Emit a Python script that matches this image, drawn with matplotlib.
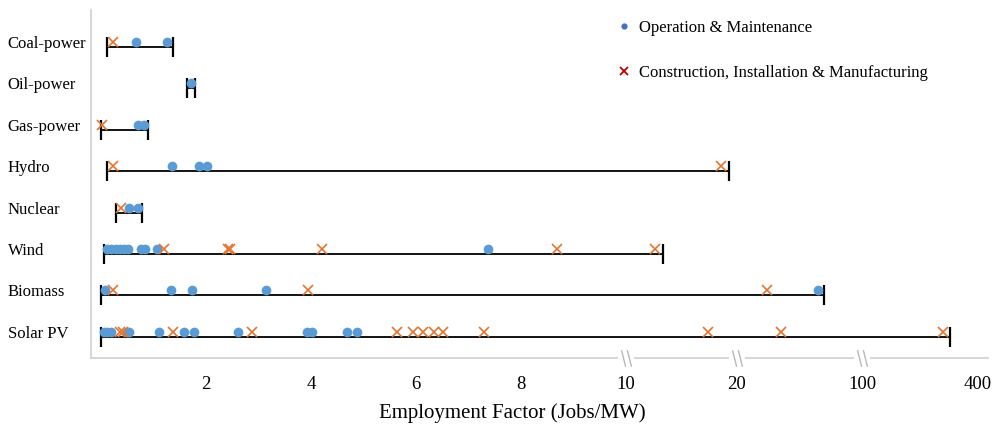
import numpy as np
import matplotlib
matplotlib.use('Agg')
import matplotlib.pyplot as plt
from matplotlib.lines import Line2D
from matplotlib.path import Path
import matplotlib.transforms as mtransforms

plt.rcParams['font.family'] = ['Liberation Serif', 'DejaVu Serif']

# technologies, top to bottom
techs = ['Coal-power', 'Oil-power', 'Gas-power', 'Hydro', 'Nuclear', 'Wind', 'Biomass', 'Solar PV']

# min / max of the range bar for each technology (jobs/MW)
range_lo = [0.11, 1.64, 0.0, 0.11, 0.29, 0.06, 0.0, 0.0]
range_hi = [1.37, 1.79, 0.90, 19.3, 0.78, 13.3, 75.6, 329]

# operation & maintenance estimates
om = [
    [0.67, 1.26],
    [1.71],
    [0.70, 0.82],
    [1.35, 1.87, 2.02],
    [0.53, 0.70],
    [0.12, 0.20, 0.28, 0.36, 0.44, 0.52, 0.76, 0.84, 1.07, 7.37],
    [0.08, 1.33, 1.73, 3.14, 71.8],
    [0.05, 0.12, 0.20, 0.50, 0.54, 1.10, 1.58, 1.77, 2.61, 3.92, 4.02, 4.69, 4.88],
]

# construction, installation & manufacturing estimates
cim = [
    [0.23],
    [],
    [0.02],
    [0.23, 18.6],
    [0.38],
    [1.20, 2.42, 2.46, 4.21, 8.69, 12.6],
    [0.23, 3.94, 39.2],
    [0.36, 0.42, 1.37, 2.88, 5.64, 5.95, 6.13, 6.34, 6.51, 7.30, 17.4, 48, 311],
]

xticks = [2, 4, 6, 8, 10, 20, 100, 400]
breaks = [10, 20, 100]

# piecewise linear axis: 0-10 linear, then compressed 10-20, 20-100, 100-400
knot_val = [-10, 0, 10, 20, 100, 400, 4000]
knot_pos = [-10, 0, 10, 12.11, 14.50, 16.69, 16.69 + 3600 * 2.19 / 300]


def fwd(x):
    return np.interp(x, knot_val, knot_pos)


def inv(t):
    return np.interp(t, knot_pos, knot_val)


fig = plt.figure(figsize=(9.92, 4.33), dpi=100)
ax = fig.add_axes([91 / 992, 1 - 358 / 433, 897 / 992, 348 / 433])
ax.set_xscale('function', functions=(fwd, inv))

blue = '#5B9BD5'
orange = '#E5742F'
off = 0.12  # range bar sits a little under the markers

for i, t in enumerate(techs):
    ax.plot([range_lo[i], range_hi[i]], [i + off, i + off], color='black', lw=1.3,
            marker='|', ms=15, mew=1.6, zorder=2)
    if om[i]:
        ax.plot(om[i], [i] * len(om[i]), 'o', color=blue, ms=7, mew=0, zorder=3)
    if cim[i]:
        ax.plot(cim[i], [i] * len(cim[i]), 'x', color=orange, ms=7, mew=1.2, zorder=4)

ax.set_xlim(-0.19, 428)
ax.set_ylim(len(techs) - 1 + 0.63, -0.77)

ax.set_yticks(range(len(techs)))
ax.set_yticklabels(techs, fontsize=12)
ax.tick_params(axis='y', length=0, pad=60)
for lab in ax.get_yticklabels():
    lab.set_horizontalalignment('left')

ax.set_xticks(xticks)
ax.set_xticklabels([str(v) for v in xticks], fontsize=13.5)
ax.tick_params(axis='x', length=0, pad=13)
ax.minorticks_off()

for s in ['top', 'right']:
    ax.spines[s].set_visible(False)
for s in ['left', 'bottom']:
    ax.spines[s].set_color('#D0D0D0')
    ax.spines[s].set_linewidth(1.2)

# axis break marks
trans = mtransforms.blended_transform_factory(ax.transData, ax.transAxes)
slashes = Path([(-0.3, 0.5), (-0.05, -0.5), (0.05, 0.5), (0.3, -0.5)],
               [Path.MOVETO, Path.LINETO, Path.MOVETO, Path.LINETO])
for b in breaks:
    ax.plot([b], [0], marker='s', ms=12, color='white', mew=0, transform=trans,
            clip_on=False, zorder=5)
    ax.plot([b], [0], marker=slashes, ms=12, mfc='none', mec='#B8B8B8', mew=1.0,
            transform=trans, clip_on=False, zorder=6)

ax.set_xlabel('Employment Factor (Jobs/MW)', fontsize=15)
ax.xaxis.set_label_coords(0.47, -0.13)

handles = [
    Line2D([], [], ls='none', marker='o', ms=4.5, color='#4472C4', mew=0),
    Line2D([], [], ls='none', marker='x', ms=6, color='#C00000', mew=1.3),
]
fig.legend(handles, ['Operation & Maintenance', 'Construction, Installation & Manufacturing'],
           loc='upper left', bbox_to_anchor=(617 / 992, 1 - 20 / 433), frameon=False,
           fontsize=12, handlelength=0.8, handletextpad=0.5, labelspacing=1.75,
           borderpad=0, borderaxespad=0)

fig.savefig('out.png', dpi=100)
